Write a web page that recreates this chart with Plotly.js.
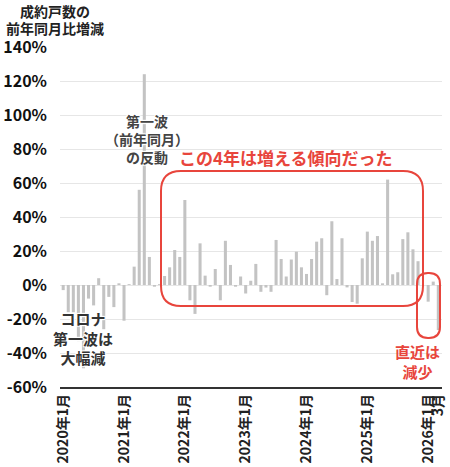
<!DOCTYPE html>
<html>
<head>
<meta charset="utf-8">
<script src="https://cdn.plot.ly/plotly-3.0.1.min.js"></script>
<style>html,body{margin:0;padding:0;background:#fff;}#chart{width:450px;height:467px;}</style>
</head>
<body>
<div id="chart"></div>
<script>
// Year-over-year change in contracted units (%), monthly 2020-01 .. 2026-03
const v2020 = [-3, -16, -16, -33, -49, -8, -12, 4, -26, -7, -13, 1];
const v2021 = [-21, 0.5, 10.8, 56, 124, 16.5, -1, 0.5, 5.3, 10.4, 20.6, 16.5];
const v2022 = [50, -9, -17, 24.5, 5.5, -1, 9.4, -9, 26, 11.8, -1, 5];
const v2023 = [-5, 2.5, 12.4, -4, -1.5, -4, 26.5, 15.3, 5, 15, 19.6, 10.4];
const v2024 = [6.5, 15.3, 25.5, 27.5, -6, 37.5, 3.5, 27.5, -1.4, -10, -11, 15.7];
const v2025 = [31.4, 26, 28.8, 1, 62, 6.3, 7.5, 27, 31, 21, 14, 0];
const v2026 = [-9.8, 2, -26.5];

const years = [2020, 2021, 2022, 2023, 2024, 2025, 2026];
const yearValues = [v2020, v2021, v2022, v2023, v2024, v2025, v2026];

const tickMonths = ['2020-01','2021-01','2022-01','2023-01','2024-01','2025-01','2026-01','2026-03'];
const tickLabels = ['2020年1月','2021年1月','2022年1月','2023年1月','2024年1月','2025年1月','2026年1月','3月'];

const yTickVals = [-60, -40, -20, 0, 20, 40, 60, 80, 100, 120, 140];
const yTickText = ['-60%','-40%','-20%','0%','20%','40%','60%','80%','100%','120%','140%'];

const yTitleLine1 = '成約戸数の';
const yTitleLine2 = '前年同月比増減';
const noteCorona = 'コロナ<br>第一波は<br>大幅減';
const noteRebound = '第一波<br>（前年同月）<br>の反動';
const noteTrend = 'この4年は増える傾向だった';
const noteRecent = '直近は<br>減少';

// Build categories / values
const months = [], values = [];
years.forEach((y, k) => {
  yearValues[k].forEach((val, m) => {
    months.push(y + '-' + String(m + 1).padStart(2, '0'));
    values.push(val);
  });
});

// plot area in pixels
const W = 450, H = 467, L = 60, R = 8, T = 47, B = 80;
const pw = W - L - R, ph = H - T - B;
const px = x => (x - L) / pw;
const py = y => (H - B - y) / ph;

function roundRect(x0, y0, x1, y1, r) {
  const P = (x, y) => px(x).toFixed(5) + ',' + py(y).toFixed(5);
  return 'M' + P(x0 + r, y0) +
    ' L' + P(x1 - r, y0) + ' Q' + P(x1, y0) + ' ' + P(x1, y0 + r) +
    ' L' + P(x1, y1 - r) + ' Q' + P(x1, y1) + ' ' + P(x1 - r, y1) +
    ' L' + P(x0 + r, y1) + ' Q' + P(x0, y1) + ' ' + P(x0, y1 - r) +
    ' L' + P(x0, y0 + r) + ' Q' + P(x0, y0) + ' ' + P(x0 + r, y0) + ' Z';
}

const FONT = '"Noto Sans CJK JP", "Noto Sans", sans-serif';
const RED = '#e8453c';
const halo = '1px 1px 1px #fff, -1px -1px 1px #fff, 1px -1px 1px #fff, -1px 1px 1px #fff';

const trace = {
  type: 'bar',
  x: months,
  y: values,
  marker: {color: '#c3c3c3'},
  hoverinfo: 'x+y'
};

const titleFont = {size: 14, color: '#222', family: FONT, weight: 'bold'};

const layout = {
  width: W, height: H,
  margin: {l: L, r: R, t: T, b: B, pad: 0},
  paper_bgcolor: '#fff', plot_bgcolor: '#fff',
  showlegend: false,
  bargap: 0.4,
  font: {family: FONT, color: '#222'},
  xaxis: {
    type: 'category',
    range: [-0.63, 74.73],
    tickmode: 'array',
    tickvals: tickMonths,
    ticktext: tickLabels,
    tickangle: -90,
    tickfont: {size: 14, family: FONT, color: '#222', weight: 'bold'},
    showgrid: false,
    showline: true, linecolor: '#333', linewidth: 1.5,
    ticks: '', zeroline: false, fixedrange: true
  },
  yaxis: {
    range: [-60, 140],
    tickmode: 'array',
    tickvals: yTickVals,
    ticktext: yTickText,
    tickfont: {size: 16, family: FONT, color: '#111', weight: 'bold'},
    showgrid: true, gridcolor: '#e6e6e6', gridwidth: 1,
    zeroline: false, showline: false, ticks: '',
    ticklabelstandoff: 12, fixedrange: true
  },
  annotations: [
    {text: yTitleLine1, xref: 'paper', yref: 'paper', x: px(55), y: py(11), xanchor: 'center', yanchor: 'middle',
     showarrow: false, align: 'center', font: titleFont},
    {text: yTitleLine2, xref: 'paper', yref: 'paper', x: px(55), y: py(28), xanchor: 'center', yanchor: 'middle',
     showarrow: false, align: 'center', font: titleFont},
    {text: noteCorona, xref: 'paper', yref: 'paper', x: px(83), y: py(338), xanchor: 'center', yanchor: 'middle',
     showarrow: false, align: 'center', font: {size: 15, color: '#333', family: FONT, weight: 'bold', shadow: halo}},
    {text: noteRebound, xref: 'paper', yref: 'paper', x: px(147), y: py(139), xanchor: 'center', yanchor: 'middle',
     showarrow: false, align: 'center', font: {size: 14, color: '#444', family: FONT, weight: 'bold', shadow: halo}},
    {text: noteTrend, xref: 'paper', yref: 'paper', x: px(286), y: py(157), xanchor: 'center', yanchor: 'middle',
     showarrow: false, align: 'center', font: {size: 17, color: RED, family: FONT, weight: 'bold'}},
    {text: noteRecent, xref: 'paper', yref: 'paper', x: px(417), y: py(361), xanchor: 'center', yanchor: 'middle',
     showarrow: false, align: 'center', font: {size: 15, color: RED, family: FONT, weight: 'bold'}}
  ],
  shapes: [
    {type: 'path', xref: 'paper', yref: 'paper', path: roundRect(161, 171, 423, 306, 20),
     line: {color: RED, width: 2}, fillcolor: 'rgba(0,0,0,0)'},
    {type: 'path', xref: 'paper', yref: 'paper', path: roundRect(417, 273, 440, 338, 11),
     line: {color: RED, width: 2}, fillcolor: 'rgba(0,0,0,0)'}
  ]
};

Plotly.newPlot('chart', [trace], layout, {displayModeBar: false, staticPlot: true});
</script>
</body>
</html>
